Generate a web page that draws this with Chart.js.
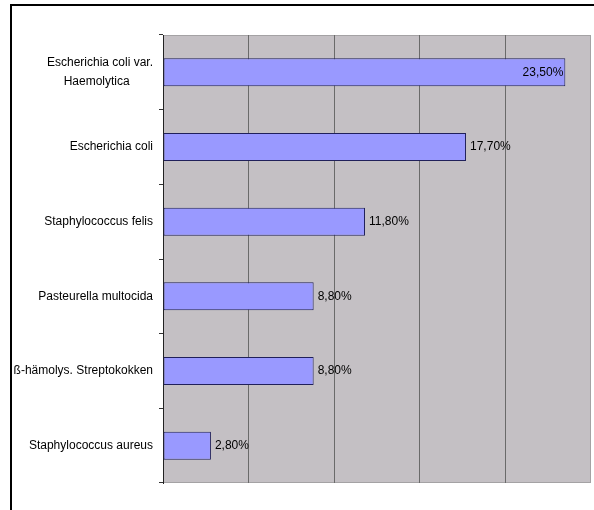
<!DOCTYPE html>
<html>
<head>
<meta charset="utf-8">
<script src="https://cdn.jsdelivr.net/npm/chart.js@4"></script>
<style>
    html, body { margin: 0; padding: 0; background: #fff; overflow: hidden; }
    #frame { position: absolute; left: 10px; top: 4px; width: 620px; height: 540px;
             border-left: 2px solid #000; border-top: 2px solid #000; }
    #chart { position: absolute; left: 0; top: 0; }
</style>
</head>
<body>
<div id="frame"></div>
<canvas id="chart" width="594" height="510"></canvas>
<script>
    "use strict";

    // Data
    var categories = [
        ["Escherichia coli var.", "Haemolytica       "],
        "Escherichia coli",
        "Staphylococcus felis",
        "Pasteurella multocida",
        "ß-hämolys. Streptokokken",
        "Staphylococcus aureus"
    ];
    var shares = [23.5, 17.7, 11.8, 8.8, 8.8, 2.8];
    var axisMax = 25;
    var axisStep = 5;

    var labelFont = "12px 'Liberation Sans', Arial, sans-serif";

    // Plot background
    var plotBg = {
        id: "plotBg",
        beforeDraw: function (chart) {
            var a = chart.chartArea, c = chart.ctx;
            c.save();
            c.fillStyle = "#c4c0c4";
            c.fillRect(a.left, a.top, a.right - a.left, a.bottom - a.top);
            c.strokeStyle = "#a4a2a4";
            c.lineWidth = 1;
            c.strokeRect(a.left + 0.5, a.top + 0.5, a.right - a.left - 1, a.bottom - a.top - 1);
            c.restore();
        }
    };

    // Value labels
    var valueLabels = {
        id: "valueLabels",
        afterDatasetsDraw: function (chart) {
            var c = chart.ctx, area = chart.chartArea;
            var meta = chart.getDatasetMeta(0);
            c.save();
            c.font = labelFont;
            c.fillStyle = "#000";
            c.textBaseline = "middle";
            meta.data.forEach(function (bar, i) {
                var txt = shares[i].toFixed(2).replace(".", ",") + "%";
                var w = c.measureText(txt).width;
                if (bar.x + 4 + w > area.right) {
                    c.textAlign = "right";
                    c.fillText(txt, bar.x - 2, bar.y);
                } else {
                    c.textAlign = "left";
                    c.fillText(txt, bar.x + 4, bar.y);
                }
            });
            c.restore();
        }
    };

    var ctx = document.getElementById("chart").getContext("2d");
    var myChart = new Chart(ctx, {
        type: "bar",
        data: {
            labels: categories,
            datasets: [{
                data: shares,
                backgroundColor: "#9999ff",
                borderColor: "#20205a",
                borderWidth: 1,
                borderSkipped: false,
                categoryPercentage: 1,
                barPercentage: 0.375
            }]
        },
        options: {
            indexAxis: "y",
            responsive: false,
            animation: false,
            layout: { padding: { top: 35, right: 3, bottom: 27, left: 0 } },
            plugins: {
                legend: { display: false },
                tooltip: { enabled: false }
            },
            scales: {
                x: {
                    min: 0,
                    max: axisMax,
                    ticks: { display: false, stepSize: axisStep },
                    grid: {
                        color: function (c) {
                            return (c.tick && c.tick.value > 0 && c.tick.value < axisMax) ? "#6a6a6a" : "rgba(0,0,0,0)";
                        },
                        drawTicks: false
                    },
                    border: { display: false }
                },
                y: {
                    afterFit: function (scale) { scale.width = 163; },
                    ticks: {
                        color: "#000",
                        font: { family: "'Liberation Sans', Arial, sans-serif", size: 12, lineHeight: 1.6 },
                        padding: 6
                    },
                    grid: {
                        offset: true,
                        drawOnChartArea: false,
                        tickLength: 4,
                        color: "#333"
                    },
                    border: { display: true, color: "#222", width: 1 }
                }
            }
        },
        plugins: [plotBg, valueLabels]
    });
</script>
</body>
</html>
